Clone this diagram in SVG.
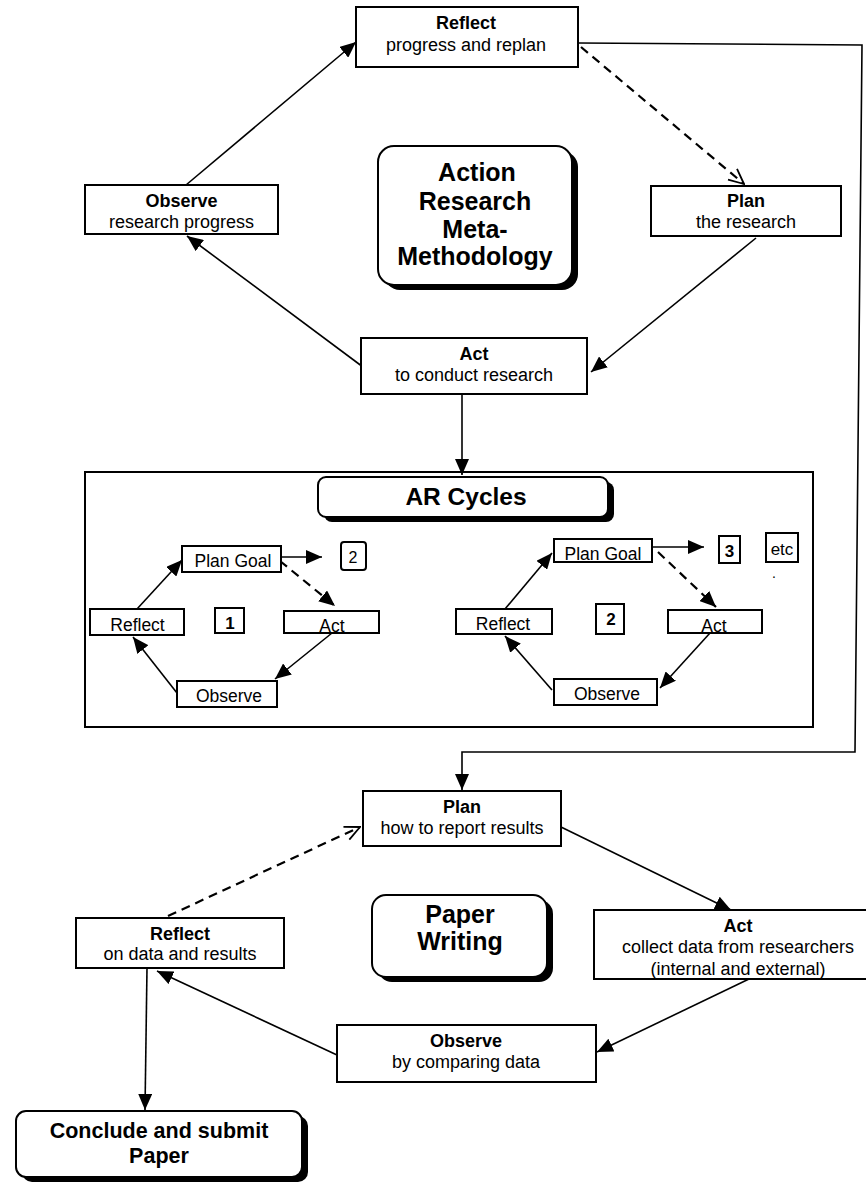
<svg xmlns="http://www.w3.org/2000/svg" width="866" height="1182" viewBox="0 0 866 1182">
<style>
text{font-family:"Liberation Sans",Arial,sans-serif;fill:#000;text-anchor:middle}
.b{font-weight:bold}
.t{font-size:18px}
.big{font-size:25px;font-weight:bold}
.s{font-size:17.5px}
.box{fill:#fff;stroke:#000;stroke-width:2}
.frame{fill:none;stroke:#000;stroke-width:2}
.sh{fill:#000;stroke:none}
.ln{fill:none;stroke:#000;stroke-width:1.6}
.da{stroke-dasharray:9 6;stroke-width:2.2}
</style>
<defs>
<marker id="af" markerUnits="userSpaceOnUse" markerWidth="16" markerHeight="14" refX="16" refY="7" orient="auto" viewBox="0 0 16 14">
<path d="M0,0 L16,7 L0,14 z" fill="#000"/>
</marker>
<marker id="ao" markerUnits="userSpaceOnUse" markerWidth="17" markerHeight="16" refX="16" refY="8" orient="auto" viewBox="0 0 17 16">
<path d="M1,1 L16,8 L1,15" fill="none" stroke="#000" stroke-width="1.8"/>
</marker>
</defs>

<g id="ar-cycles">
<rect class="frame" x="85" y="472" width="728" height="255"/>
<rect class="sh" x="324" y="482" width="290" height="40" rx="8"/>
<rect class="box" x="318" y="477" width="290" height="40" rx="8"/>
<text class="b" style="font-size:24.5px" x="466" y="505">AR Cycles</text>
</g>

<g id="connectors">
<path class="ln" d="M186,185 L356,42" marker-end="url(#af)"/>
<path class="ln" d="M363,367 L187,236" marker-end="url(#af)"/>
<path class="ln" d="M756,238 L591,372" marker-end="url(#af)"/>
<path class="ln da" d="M581,47 L744,184" marker-end="url(#ao)"/>
<path class="ln" d="M462,394 L462,475" marker-end="url(#af)"/>
<path class="ln" d="M579,43 L862,45 L855,752 L462,752 L462,790" marker-end="url(#af)"/>

<path class="ln" d="M137,609 L182,560" marker-end="url(#af)"/>
<path class="ln" d="M281,557 L322,557" marker-end="url(#af)"/>
<path class="ln da" d="M280,561 L335,606" marker-end="url(#af)"/>
<path class="ln" d="M332,633 L275,679" marker-end="url(#af)"/>
<path class="ln" d="M177,693 L133,637" marker-end="url(#af)"/>

<path class="ln" d="M505,609 L552,553" marker-end="url(#af)"/>
<path class="ln" d="M652,547 L704,547" marker-end="url(#af)"/>
<path class="ln da" d="M658,552 L716,607" marker-end="url(#af)"/>
<path class="ln" d="M710,633 L660,688" marker-end="url(#af)"/>
<path class="ln" d="M552,690 L505,636" marker-end="url(#af)"/>

<path class="ln" d="M561,827 L731,910" marker-end="url(#af)"/>
<path class="ln" d="M749,979 L597,1052" marker-end="url(#af)"/>
<path class="ln" d="M337,1055 L157,971" marker-end="url(#af)"/>
<path class="ln da" d="M168,916 L360,827" marker-end="url(#ao)"/>
<path class="ln" d="M147,968 L145,1110" marker-end="url(#af)"/>
</g>

<g id="reflect-top">
<rect class="box" x="356" y="7" width="222" height="60"/>
<text class="t b" x="466" y="29">Reflect</text>
<text class="t" x="466" y="51">progress and replan</text>
</g>
<g id="observe-top">
<rect class="box" x="85" y="185" width="193" height="49"/>
<text class="t b" x="181.5" y="207">Observe</text>
<text class="t" x="181.5" y="228">research progress</text>
</g>
<g id="plan-top">
<rect class="box" x="651" y="186" width="190" height="50"/>
<text class="t b" x="746" y="207">Plan</text>
<text class="t" x="746" y="228">the research</text>
</g>
<g id="act-top">
<rect class="box" x="361" y="338" width="226" height="56"/>
<text class="t b" x="474" y="360">Act</text>
<text class="t" x="474" y="381">to conduct research</text>
</g>
<g id="title-ar-meta">
<rect class="sh" x="384" y="151" width="194" height="139" rx="16"/>
<rect class="box" x="378" y="146" width="194" height="139" rx="16"/>
<text class="big" x="477" y="181">Action</text>
<text class="big" x="475" y="210">Research</text>
<text class="big" x="475" y="238">Meta-</text>
<text class="big" x="475" y="265">Methodology</text>
</g>

<g id="c1-plan">
<rect class="box" x="182" y="546" width="99" height="26"/>
<text class="s" x="233" y="567">Plan Goal</text>
</g>
<g id="c1-next">
<rect class="box" x="341" y="542" width="25" height="28" rx="3"/>
<text style="font-size:16px" x="353" y="563">2</text>
</g>
<g id="c1-reflect">
<rect class="box" x="90" y="609" width="94" height="26"/>
<text class="s" x="137.5" y="631">Reflect</text>
</g>
<g id="c1-num">
<rect class="box" x="215" y="608" width="29" height="25"/>
<text class="b" style="font-size:17px" x="230" y="629">1</text>
</g>
<g id="c1-act">
<rect class="box" x="284" y="611" width="95" height="22"/>
<text class="s" x="332" y="632">Act</text>
</g>
<g id="c1-observe">
<rect class="box" x="177" y="681" width="100" height="26"/>
<text class="s" x="229" y="702">Observe</text>
</g>

<g id="c2-plan">
<rect class="box" x="554" y="539" width="98" height="23"/>
<text class="s" x="603" y="560">Plan Goal</text>
</g>
<g id="c2-next">
<rect class="box" x="719" y="536" width="21" height="27"/>
<text class="b" style="font-size:17px" x="729.5" y="557">3</text>
</g>
<g id="c2-etc">
<rect class="box" x="766" y="533" width="32" height="29"/>
<text style="font-size:17px" x="782" y="555">etc</text>
<text style="font-size:14px" x="774" y="578">.</text>
</g>
<g id="c2-reflect">
<rect class="box" x="456" y="609" width="96" height="25"/>
<text class="s" x="503" y="630">Reflect</text>
</g>
<g id="c2-num">
<rect class="box" x="596" y="604" width="28" height="30"/>
<text class="b" style="font-size:17px" x="611" y="625">2</text>
</g>
<g id="c2-act">
<rect class="box" x="668" y="610" width="94" height="23"/>
<text class="s" x="714" y="632">Act</text>
</g>
<g id="c2-observe">
<rect class="box" x="554" y="679" width="103" height="26"/>
<text class="s" x="607" y="700">Observe</text>
</g>

<g id="plan-bottom">
<rect class="box" x="363" y="791" width="198" height="55"/>
<text class="t b" x="462" y="813">Plan</text>
<text class="t" x="462" y="834">how to report results</text>
</g>
<g id="act-bottom">
<rect class="box" x="594" y="910" width="290" height="69"/>
<text class="t b" x="738" y="932">Act</text>
<text class="t" x="738" y="953">collect data from researchers</text>
<text class="t" x="738" y="975">(internal and external)</text>
</g>
<g id="reflect-bottom">
<rect class="box" x="76" y="918" width="208" height="50"/>
<text class="t b" x="180" y="940">Reflect</text>
<text class="t" x="180" y="960">on data and results</text>
</g>
<g id="title-paper">
<rect class="sh" x="378" y="900" width="175" height="82" rx="14"/>
<rect class="box" x="372" y="895" width="175" height="82" rx="14"/>
<text class="big" x="460" y="923">Paper</text>
<text class="big" x="460" y="950">Writing</text>
</g>
<g id="observe-bottom">
<rect class="box" x="337" y="1025" width="259" height="57"/>
<text class="t b" x="466" y="1047">Observe</text>
<text class="t" x="466" y="1068">by comparing data</text>
</g>
<g id="conclude">
<rect class="sh" x="22" y="1116" width="286" height="66" rx="10"/>
<rect class="box" x="16" y="1111" width="286" height="66" rx="10"/>
<text class="b" style="font-size:21.5px" x="159" y="1138">Conclude and submit</text>
<text class="b" style="font-size:21.5px" x="159" y="1163">Paper</text>
</g>
</svg>
